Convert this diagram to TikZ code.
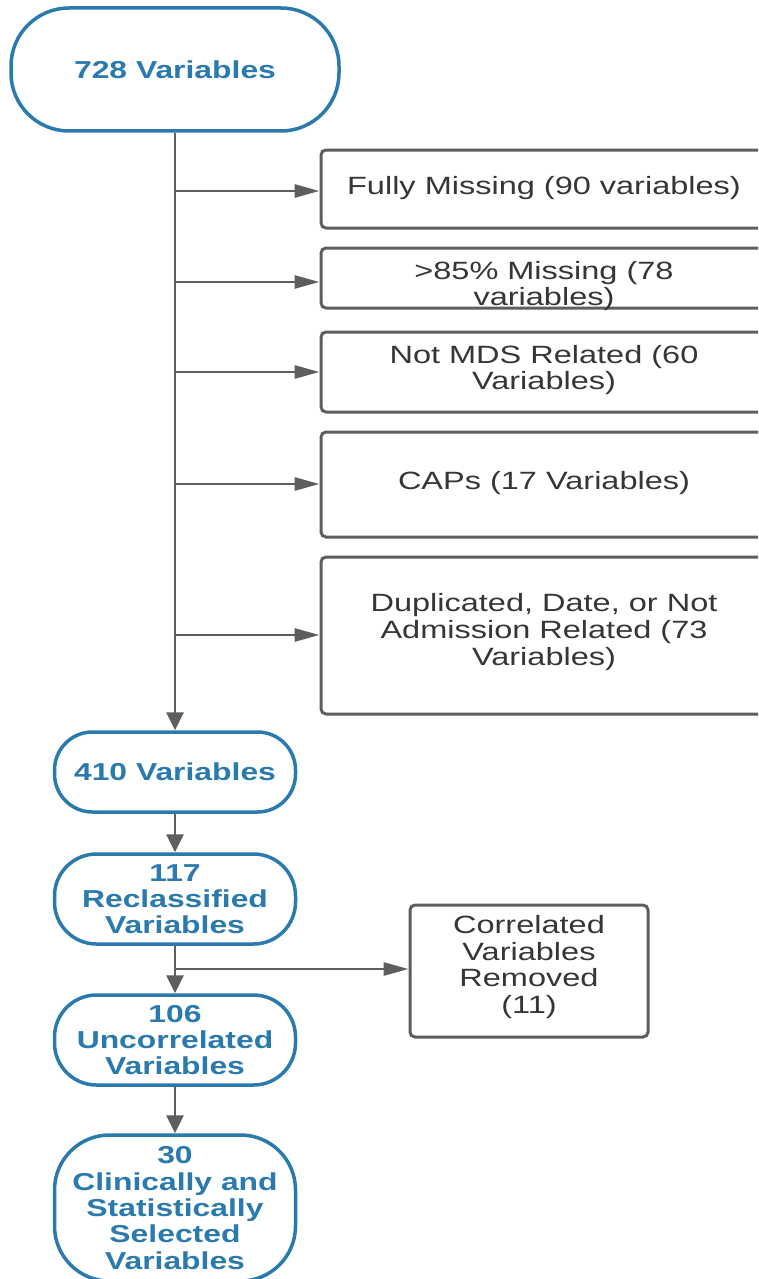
\documentclass[tikz,border=0pt]{standalone}
\usepackage{fontspec}
\setmainfont{Liberation Sans}
\newfontfamily\widesans[FakeStretch=1.3]{Liberation Sans}
\usetikzlibrary{arrows.meta}
\definecolor{lblue}{HTML}{2A7AAE}
\definecolor{lgray}{HTML}{5E5E5E}
\definecolor{tgray}{HTML}{363636}
\tikzset{
  term/.style={draw=lblue, line width=3.5pt, fill=white, text=lblue,
    font=\widesans\bfseries\fontsize{24.5}{26.3}\selectfont, align=center,
    inner sep=0pt, minimum width=241pt},
  outbox/.style={draw=lgray, line width=3pt, rounded corners=5pt, fill=white, inner sep=0pt},
  btext/.style={text=tgray, font=\widesans\fontsize{25}{26.7}\selectfont, align=center, inner sep=0pt},
  flow/.style={draw=lgray, line width=2.8pt},
  harrow/.style={flow, -{Triangle[length=25pt,width=13pt]}},
  varrow/.style={flow, -{Triangle[length=18pt,width=17pt]}},
}
\begin{document}
\begin{tikzpicture}[x=1pt,y=-1pt]
\useasboundingbox (0,0) rectangle (758,1279);
\fill[white] (0,0) rectangle (758,1279);
\clip (0,0) rectangle (758,1279);

% main column
\node[term, minimum width=328pt, minimum height=123pt, rounded corners=58pt] (n728) at (175,69.5) {728 Variables};
\node[term, minimum height=80pt, rounded corners=38pt] (n410) at (175,772) {410 Variables};
\node[term, minimum height=90pt, rounded corners=42pt] (n117) at (175,899) {117\\Reclassified\\Variables};
\node[term, minimum height=90pt, rounded corners=42pt] (n106) at (175,1040) {106\\Uncorrelated\\Variables};
\node[term, minimum height=146pt, rounded corners=55pt] (n30) at (175,1208) {30\\Clinically and\\Statistically\\Selected\\Variables};

% removal boxes
\node[outbox, minimum width=446pt, minimum height=78pt] (f1) at (544,189) {};
\node[outbox, minimum width=446pt, minimum height=60pt] (f2) at (544,278) {};
\node[outbox, minimum width=446pt, minimum height=80pt] (f3) at (544,372) {};
\node[outbox, minimum width=446pt, minimum height=105pt] (f4) at (544,484.5) {};
\node[outbox, minimum width=446pt, minimum height=157pt] (f5) at (544,635.5) {};
\node[outbox, minimum width=238pt, minimum height=132pt] (cr) at (529,971) {};

\node[btext] (t1) at (544,188) {Fully Missing (90 variables)};
\node[btext] (t2) at (544,286) {>85\% Missing (78\\variables)};
\node[btext] (t3) at (544,370) {Not MDS Related (60\\Variables)};
\node[btext] (t4) at (544,483) {CAPs (17 Variables)};
\node[btext] (t5) at (544,632) {Duplicated, Date, or Not\\Admission Related (73\\Variables)};
\node[btext] (t6) at (529,967) {Correlated\\Variables\\Removed\\(11)};

% junctions on the main line
\coordinate (j1) at (175,191);
\coordinate (j2) at (175,282);
\coordinate (j3) at (175,372);
\coordinate (j4) at (175,484);
\coordinate (j5) at (175,635);
\coordinate (j6) at (175,969);

% connectors
\draw[varrow] (n728.south) -- (n410.north);
\draw[harrow] (j1) -- (j1 -| f1.west);
\draw[harrow] (j2) -- (j2 -| f2.west);
\draw[harrow] (j3) -- (j3 -| f3.west);
\draw[harrow] (j4) -- (j4 -| f4.west);
\draw[harrow] (j5) -- (j5 -| f5.west);
\draw[varrow] (n410.south) -- (n117.north);
\draw[varrow] (n117.south) -- (n106.north);
\draw[harrow] (j6) -- (j6 -| cr.west);
\draw[varrow] (n106.south) -- (n30.north);
\end{tikzpicture}
\end{document}
